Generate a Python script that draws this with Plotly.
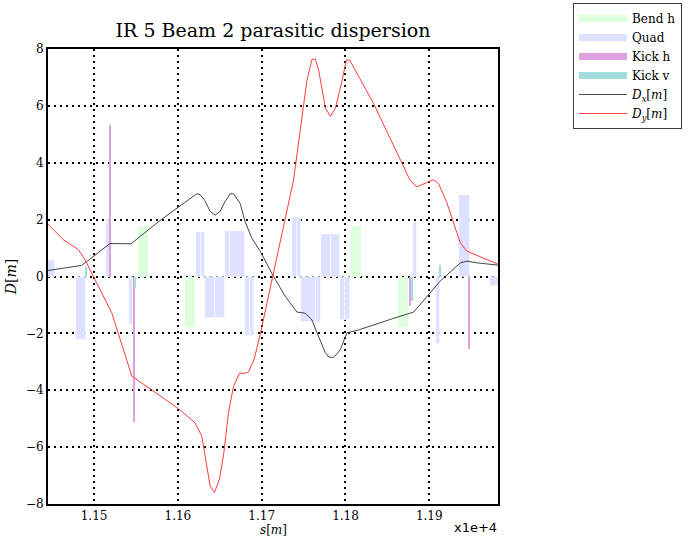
import plotly.graph_objects as go

# Lattice elements: start/end positions along s [m] and strengths in D-units
quad_start = [11440, 11479, 11514, 11542, 11621.8, 11627.4, 11632.5, 11644.5, 11656.4, 11662.4,
              11679.5, 11685.5, 11736, 11742, 11747, 11764.7, 11770.7, 11782.2, 11793.8, 11799.8,
              11880.5, 11907.5, 11936, 11973]
quad_end = [11453, 11490, 11520, 11547, 11627.4, 11632.5, 11644.5, 11656.4, 11662.4, 11679.5,
            11685.5, 11691.4, 11742, 11747, 11764.7, 11770.7, 11782.2, 11793.8, 11799.8, 11805.7,
            11885.3, 11913, 11948, 11990]
quad_val = [0.58, -2.23, 1.99, -1.71, 1.55, 1.55, -1.46, -1.46, 1.61, 1.61,
            -2.09, -2.09, 2.1, 2.1, -1.60, -1.60, 1.50, 1.50, -1.52, -1.52,
            1.93, -2.39, 2.85, -0.32]

bend_start = [11552.5, 11608.7, 11806.5, 11863]
bend_end = [11564.5, 11620.6, 11818.5, 11874.5]
bend_val = [1.79, -1.78, 1.79, -1.78]

kickh_s = [11519.5, 11547.4, 11877.7, 11947.8]
kickh_val = [5.33, -5.12, -1.04, -2.56]

kickv_s = [11491, 11549, 11879, 11912.8]
kickv_val = [0.35, -0.41, -0.87, 0.40]

# Dispersion functions
dx_s = [11445, 11485, 11491, 11519, 11544, 11580, 11622.6, 11626.6, 11632, 11638.5, 11644.5,
        11650.4, 11656, 11662.4, 11666.3, 11674.3, 11680.3, 11688.3, 11698.2, 11714, 11728,
        11742, 11752, 11760, 11766, 11772, 11776, 11780, 11785, 11790, 11794, 11801.7, 11815.6,
        11853.4, 11881.3, 11901.2, 11913, 11937, 11945, 11957, 11982]
dx_val = [0.21, 0.39, 0.52, 1.16, 1.15, 2.0, 2.91, 2.88, 2.68, 2.29, 2.16,
          2.29, 2.62, 2.91, 2.91, 2.57, 1.92, 1.34, 0.89, 0.01, -0.69,
          -1.25, -1.29, -1.53, -1.98, -2.4, -2.68, -2.83, -2.85, -2.72, -2.56, -1.98, -1.88,
          -1.51, -1.25, -0.57, -0.16, 0.48, 0.54, 0.48, 0.40]

dy_s = [11445, 11463, 11481, 11489, 11499, 11509, 11521, 11531, 11545, 11603, 11620.6,
        11628.6, 11632.5, 11638.5, 11643.7, 11649.6, 11654.4, 11660.4, 11666.3, 11673.5,
        11680.3, 11684.2, 11691, 11698.2, 11738, 11754, 11760, 11764, 11768, 11776, 11782,
        11788, 11796, 11801, 11805, 11833.6, 11877, 11885, 11899, 11905, 11911, 11921,
        11937, 11945, 11983]
dy_val = [1.84, 1.30, 0.95, 0.6, 0.01, -0.57, -1.27, -2.2, -3.5, -4.7, -5.15,
          -5.62, -6.32, -7.37, -7.6, -7.12, -6.3, -4.78, -3.87, -3.4,
          -3.4, -3.36, -2.91, -2.04, 3.39, 6.9, 7.64, 7.64, 7.26, 5.92, 5.63,
          5.92, 6.9, 7.61, 7.61, 6.08, 3.39, 3.15, 3.33, 3.4, 3.27, 2.59,
          1.18, 0.89, 0.42]

x_ticks = [11500, 11600, 11700, 11800, 11900]
x_ticktext = ["1.15", "1.16", "1.17", "1.18", "1.19"]
y_ticks = [-8, -6, -4, -2, 0, 2, 4, 6, 8]

C_BEND = "rgb(222,255,222)"
C_QUAD = "rgb(222,224,255)"
C_KICKH = "rgb(222,160,222)"
C_KICKV = "rgb(160,222,222)"
SERIF = "DejaVu Serif"

W, H = 693, 539
ML, MR, MT, MB = 48, 195, 49, 35
PLOT_H = H - MT - MB

fig = go.Figure()


def element_bars(starts, ends, vals, color, name, line_w):
    centers = [(a + b) / 2 for a, b in zip(starts, ends)]
    widths = [b - a for a, b in zip(starts, ends)]
    fig.add_trace(go.Bar(x=centers, y=vals, width=widths, base=0, name=name,
                         legendgroup=name, showlegend=False,
                         marker=dict(color=color, line=dict(color="white", width=line_w))))


element_bars(bend_start, bend_end, bend_val, C_BEND, "Bend h", 0)
element_bars(quad_start, quad_end, quad_val, C_QUAD, "Quad", 0.6)

fig.add_trace(go.Bar(x=kickh_s, y=kickh_val, width=[1.8] * len(kickh_s), base=0,
                     name="Kick h", legendgroup="Kick h", showlegend=False,
                     marker=dict(color=C_KICKH, line=dict(width=0))))
fig.add_trace(go.Bar(x=kickv_s, y=kickv_val, width=[1.6] * len(kickv_s), base=0,
                     name="Kick v", legendgroup="Kick v", showlegend=False,
                     marker=dict(color=C_KICKV, line=dict(width=0))))

# legend patches for the element bars
for name, color in [("Bend h", C_BEND), ("Quad", C_QUAD), ("Kick h", C_KICKH), ("Kick v", C_KICKV)]:
    fig.add_trace(go.Scatter(x=[None], y=[None], mode="lines", name=name, legendgroup=name,
                             line=dict(color=color, width=7)))

fig.add_trace(go.Scatter(x=dx_s, y=dx_val, mode="lines", name="<i>D</i><sub><i>x</i></sub>[<i>m</i>]",
                         line=dict(color="rgb(70,70,70)", width=1)))
fig.add_trace(go.Scatter(x=dy_s, y=dy_val, mode="lines", name="<i>D</i><sub><i>y</i></sub>[<i>m</i>]",
                         line=dict(color="rgb(255,60,60)", width=1)))

axis_common = dict(showline=True, linecolor="black", linewidth=2, mirror=True,
                   showgrid=True, gridcolor="black", gridwidth=2, griddash="2px,4px",
                   zeroline=False, ticks="", automargin=False,
                   tickfont=dict(family=SERIF, size=12, color="black"))

fig.update_layout(
    width=W, height=H,
    margin=dict(l=ML, r=MR, t=MT, b=MB, autoexpand=False),
    paper_bgcolor="white", plot_bgcolor="white",
    barmode="overlay", bargap=0,
    title=dict(text="IR 5 Beam 2 parasitic dispersion", x=(ML + (W - ML - MR) / 2) / W,
               xanchor="center", y=1 - 30 / H, yanchor="middle",
               font=dict(family=SERIF, size=19, color="black")),
    xaxis=dict(range=[11445, 11982], tickvals=x_ticks, ticktext=x_ticktext, **axis_common),
    yaxis=dict(range=[-8, 8], tickvals=y_ticks,
               title=dict(text="<i>D</i>[<i>m</i>]", font=dict(family=SERIF, size=14, color="black"),
                          standoff=6),
               **axis_common),
    legend=dict(xref="container", yref="container", x=573 / W, y=1 - 3 / H,
                xanchor="left", yanchor="top",
                bordercolor="rgb(60,60,60)", borderwidth=1, bgcolor="white",
                font=dict(family=SERIF, size=12, color="black"),
                itemwidth=48, tracegroupgap=0),
    showlegend=True,
)

# x-axis label and offset marker below the axis
fig.add_annotation(text="<i>s</i>[<i>m</i>]", xref="paper", yref="paper", x=0.5,
                   y=-(H - 1 - (H - MB)) / PLOT_H, xanchor="center", yanchor="bottom",
                   showarrow=False, borderpad=0,
                   font=dict(family=SERIF, size=12, color="black"))
fig.add_annotation(text="x1e+4", xref="paper", yref="paper", x=1, y=-(527 - 504) / PLOT_H,
                   xanchor="right", yanchor="middle", showarrow=False, borderpad=0,
                   font=dict(family="DejaVu Sans", size=13, color="black"))

fig.write_html("out.html")
